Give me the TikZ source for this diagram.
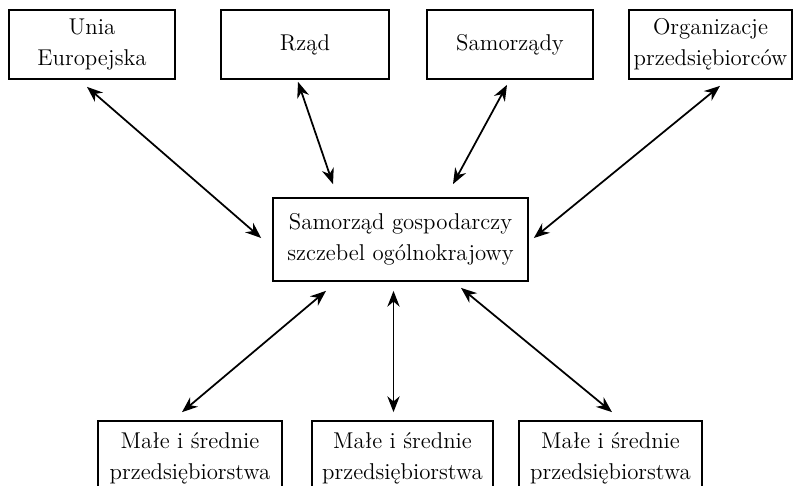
\documentclass[tikz,border=0pt]{standalone}
\usepackage{fontspec}
\usetikzlibrary{arrows.meta}
\tikzset{
    box/.style={draw,line width=1pt,align=center,inner sep=0pt,
        font=\fontsize{13}{17.5}\selectfont},
    link/.style={line width=1pt,<->},
    >={Stealth[length=9pt,width=7pt]}
}
\begin{document}
\begin{tikzpicture}[x=0.02cm,y=-0.02cm]
        \clip (0,0) rectangle (795,485);
        %% Top row
        \node[box,minimum width=3.32cm,minimum height=1.38cm] (ue) at (92,44.5) {Unia\\Europejska};
        \node[box,minimum width=3.36cm,minimum height=1.38cm] (rzad) at (305,44.5) {Rząd};
        \node[box,minimum width=3.32cm,minimum height=1.38cm] (sam) at (510,44.5) {Samorządy};
        \node[box,minimum width=3.26cm,minimum height=1.38cm] (org) at (710.5,44.5) {Organizacje\\przedsiębiorców};
        %% Centre
        \node[box,minimum width=5.1cm,minimum height=1.66cm] (cen) at (400.5,239.5) {Samorząd gospodarczy\\szczebel ogólnokrajowy};
        %% Bottom row
        \node[box,minimum width=3.68cm,minimum height=1.48cm] (msp1) at (190,458) {Małe i średnie\\przedsiębiorstwa};
        \node[box,minimum width=3.62cm,minimum height=1.48cm] (msp2) at (402.5,458) {Małe i średnie\\przedsiębiorstwa};
        \node[box,minimum width=3.66cm,minimum height=1.48cm] (msp3) at (610.5,458) {Małe i średnie\\przedsiębiorstwa};
        %% Links to the top
        \draw[link] ([shift={(-5,7)}]ue.south) -- ([shift={(-11,-1.5)}]cen.west);
        \draw[link] ([shift={(-7,2)}]rzad.south) -- ([shift={(-67.5,-13)}]cen.north);
        \draw[link] ([shift={(-3,5)}]sam.south) -- ([shift={(52.5,-13)}]cen.north);
        \draw[link] ([shift={(9.5,6)}]org.south) -- ([shift={(5,-1.5)}]cen.east);
        %% Links to the bottom
        \draw[link] ([shift={(-74.5,9)}]cen.south) -- ([shift={(-8,-8)}]msp1.north);
        \draw[link] ([shift={(-7,9)}]cen.south) -- ([shift={(-9,-8)}]msp2.north);
        \draw[link] ([shift={(60.5,6)}]cen.south) -- ([shift={(1.5,-8)}]msp3.north);
    \end{tikzpicture}
\end{document}
